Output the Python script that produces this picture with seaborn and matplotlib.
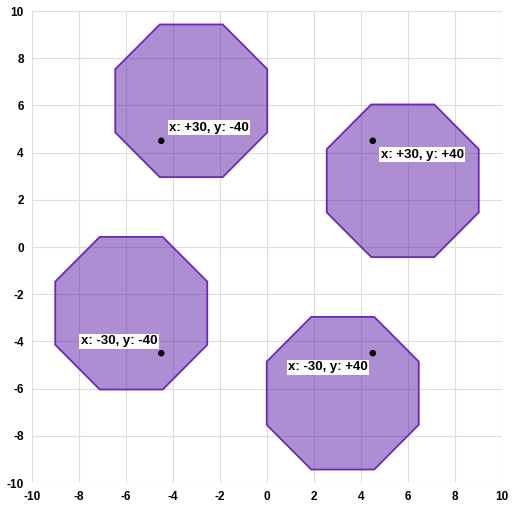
import numpy as np
import pandas as pd
import matplotlib.pyplot as plt
import seaborn as sns
from matplotlib.patches import RegularPolygon

sns.set_style('white')
plt.rcParams['font.family'] = ['Liberation Sans', 'DejaVu Sans']
plt.rcParams['axes.unicode_minus'] = False

# data
point_x = [-4.5, 4.5, -4.5, 4.5]
point_y = [4.5, 4.5, -4.5, -4.5]
shift_x = [30, 30, -30, -30]   # pixel offsets of each octagon
shift_y = [-40, 40, -40, 40]
labels = ['x: +30, y: -40', 'x: +30, y: +40', 'x: -30, y: -40', 'x: -30, y: +40']
ticks = [-10, -8, -6, -4, -2, 0, 2, 4, 6, 8, 10]

df = pd.DataFrame({'x': point_x, 'y': point_y})

fig = plt.figure(figsize=(5.12, 5.12), dpi=100)
ax = fig.add_axes([32 / 512, 29 / 512, 470 / 512, 472 / 512])
ax.set_xlim(-10, 10)
ax.set_ylim(-10, 10)

# pixels per data unit
px_x = 470 / 20
px_y = 472 / 20
apothem = 76 / px_x
radius = apothem / np.cos(np.pi / 8)

for px, py, sx, sy in zip(point_x, point_y, shift_x, shift_y):
    cx = px + sx / px_x
    cy = py - sy / px_y
    oct_patch = RegularPolygon((cx, cy), numVertices=8, radius=radius,
                               orientation=np.pi / 8, facecolor='#5f1fa8',
                               alpha=0.5, edgecolor='none', zorder=2)
    ax.add_patch(oct_patch)
    edge = RegularPolygon((cx, cy), numVertices=8, radius=radius,
                          orientation=np.pi / 8, facecolor='none',
                          edgecolor='#6a2ab8', linewidth=1.3, zorder=3)
    ax.add_patch(edge)

sns.scatterplot(data=df, x='x', y='y', color='black', s=22, ax=ax,
                edgecolor='none', zorder=5, legend=False)

# label placement (pixel offsets, alignments)
label_pos = [((8, 7), 'left', 'bottom'), ((8, -8), 'left', 'top'),
             ((-4, 6), 'right', 'bottom'), ((-5, -8), 'right', 'top')]
for (px, py, txt, (off, ha, va)) in zip(point_x, point_y, labels, label_pos):
    ax.annotate(txt, (px, py), xytext=off, textcoords='offset pixels',
                ha=ha, va=va, fontsize=9.5, fontweight='bold', color='black',
                bbox=dict(boxstyle='square,pad=0.1', facecolor='white',
                          edgecolor='none'), zorder=6)

ax.set_xticks(ticks)
ax.set_yticks(ticks)
ax.grid(True, color='#dddddd', linewidth=0.8, zorder=0)
ax.set_axisbelow(True)
for s in ax.spines.values():
    s.set_visible(False)
ax.tick_params(length=0, labelsize=8.5, pad=6, labelcolor='black')
for lab in ax.get_xticklabels() + ax.get_yticklabels():
    lab.set_fontweight('bold')
ax.set_xlabel('')
ax.set_ylabel('')

fig.savefig('out.png', dpi=100)
